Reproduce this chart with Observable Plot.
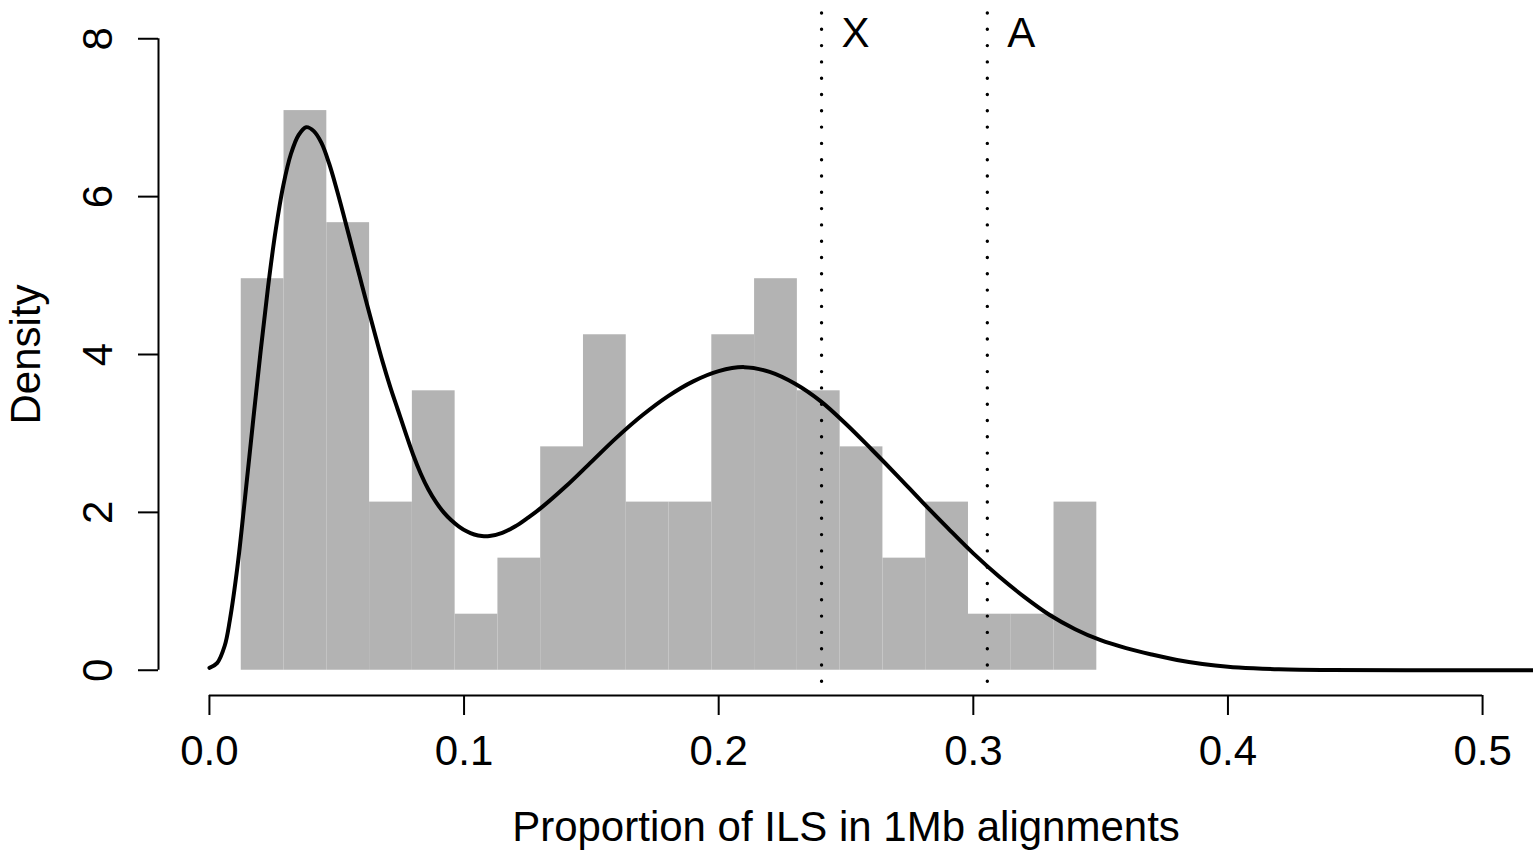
<!DOCTYPE html>
<html>
<head>
<meta charset="utf-8">
<script src="https://cdn.jsdelivr.net/npm/d3@7"></script>
<script src="https://cdn.jsdelivr.net/npm/@observablehq/plot@0.6"></script>
<style>
  html, body { margin: 0; padding: 0; background: #fff; }
  #chart svg { display: block; }
</style>
</head>
<body>
<div id="chart"></div>
<script>
// Histogram of ILS proportions: bin edges and density heights
const binEdges = [0.0125, 0.0293, 0.0461, 0.0629, 0.0797, 0.0965, 0.1133, 0.1301, 0.1469, 0.1637,
  0.1805, 0.1973, 0.2141, 0.2309, 0.2477, 0.2645, 0.2813, 0.2981, 0.3149, 0.3317, 0.3485];
const binDensity = [4.96, 7.09, 5.67, 2.13, 3.54, 0.71, 1.42, 2.83, 4.25, 2.13,
  2.13, 4.25, 4.96, 3.54, 2.83, 1.42, 2.13, 0.71, 0.71, 2.13];

// Fitted density curve
const curveX = [0, 0.003, 0.006, 0.008, 0.011, 0.014, 0.017, 0.020, 0.023, 0.026,
  0.029, 0.032, 0.035, 0.038, 0.041, 0.044, 0.047, 0.050, 0.053, 0.056,
  0.059, 0.062, 0.065, 0.068, 0.071, 0.074, 0.077, 0.080, 0.083, 0.086,
  0.089, 0.092, 0.095, 0.098, 0.101, 0.104, 0.107, 0.110, 0.115, 0.120,
  0.125, 0.130, 0.140, 0.150, 0.160, 0.170, 0.180, 0.190, 0.200, 0.210,
  0.220, 0.230, 0.240, 0.250, 0.260, 0.270, 0.280, 0.290, 0.300, 0.310,
  0.320, 0.330, 0.340, 0.350, 0.360, 0.370, 0.380, 0.390, 0.400, 0.410,
  0.420, 0.440, 0.470, 0.520];
const curveY = [0.03, 0.09, 0.31, 0.63, 1.31, 2.19, 3.11, 4.01, 4.85, 5.57,
  6.14, 6.54, 6.78, 6.88, 6.83, 6.68, 6.42, 6.09, 5.73, 5.36,
  4.99, 4.62, 4.26, 3.91, 3.59, 3.30, 3.01, 2.73, 2.49, 2.29,
  2.13, 2.00, 1.90, 1.82, 1.76, 1.72, 1.70, 1.70, 1.74, 1.82,
  1.93, 2.05, 2.33, 2.64, 2.95, 3.23, 3.47, 3.66, 3.79, 3.84,
  3.78, 3.63, 3.41, 3.12, 2.80, 2.47, 2.13, 1.80, 1.48, 1.19,
  0.93, 0.70, 0.52, 0.38, 0.28, 0.20, 0.13, 0.08, 0.045, 0.025,
  0.013, 0.004, 0.001, 0.0];

// Reference positions marked with dotted lines
const markerLabels = ["X", "A"];
const markerValues = [0.2404, 0.3055];

// Axis ticks
const xTicks = [0, 0.1, 0.2, 0.3, 0.4, 0.5];
const yTicks = [0, 2, 4, 6, 8];

// Plot region (data units), padded 4% beyond the axis ranges
const xLo = -0.02, xHi = 0.52;
const yLo = -0.32, yHi = 8.32;

const bins = binDensity.map((d, i) => ({x1: binEdges[i], x2: binEdges[i + 1], density: d}));
const curve = curveX.map((x, i) => ({x, y: curveY[i]}));
const markers = markerLabels.map((label, i) => ({label, value: markerValues[i]}));

const font = "'Liberation Sans', Arial, Helvetica, sans-serif";

const chart = Plot.plot({
  width: 1533,
  height: 852,
  marginLeft: 158,
  marginRight: 0,
  marginTop: 13,
  marginBottom: 157,
  style: {fontFamily: font, fontSize: "42px", background: "#fff", color: "#000"},
  x: {domain: [xLo, xHi]},
  y: {domain: [yLo, yHi]},
  marks: [
    Plot.rectY(bins, {x1: "x1", x2: "x2", y1: 0, y2: "density", fill: "#b3b3b3"}),
    Plot.line(curve, {x: "x", y: "y", stroke: "#000", strokeWidth: 4, curve: "catmull-rom"}),
    Plot.ruleX(markers, {x: "value", stroke: "#000", strokeWidth: 3.4,
      strokeDasharray: "0,16.3", strokeLinecap: "round"}),
    Plot.text(markers, {x: "value", text: "label", frameAnchor: "top", dx: 20, dy: 4,
      textAnchor: "start", lineAnchor: "top", fontSize: 42}),
    // axis lines spanning first to last tick
    Plot.ruleY([yLo], {x1: xTicks[0], x2: xTicks[xTicks.length - 1], stroke: "#000", strokeWidth: 2}),
    Plot.ruleX([xLo], {y1: yTicks[0], y2: yTicks[yTicks.length - 1], stroke: "#000", strokeWidth: 2}),
    Plot.axisX({ticks: xTicks, tickFormat: d => d.toFixed(1), tickSize: 20, tickPadding: 20,
      label: null, strokeWidth: 2, fontSize: 42}),
    Plot.axisY({ticks: yTicks, tickFormat: d => String(d), tickSize: 20, tickPadding: 27,
      tickRotate: -90, label: null, strokeWidth: 2, fontSize: 42}),
    Plot.text(["Proportion of ILS in 1Mb alignments"], {text: d => d, frameAnchor: "bottom",
      dy: 145, lineAnchor: "bottom", textAnchor: "middle", fontSize: 42}),
    Plot.text(["Density"], {text: d => d, frameAnchor: "left", dx: -119, rotate: -90,
      lineAnchor: "bottom", textAnchor: "middle", fontSize: 42})
  ]
});

document.getElementById("chart").appendChild(chart);
</script>
</body>
</html>
